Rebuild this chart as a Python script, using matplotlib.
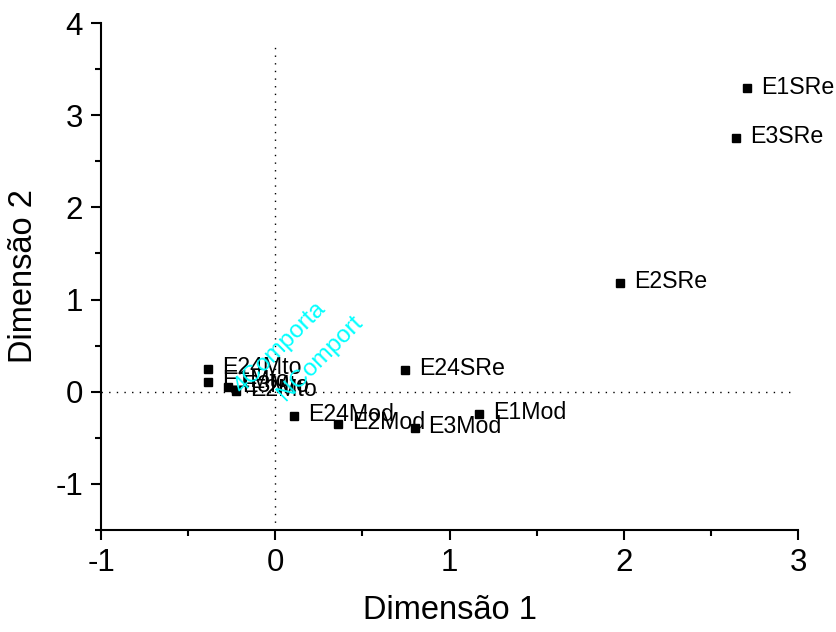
import matplotlib

matplotlib.use("Agg")
import matplotlib.pyplot as plt
from matplotlib.ticker import MultipleLocator

plt.rcParams["font.family"] = ["Liberation Sans", "DejaVu Sans"]
plt.rcParams["axes.unicode_minus"] = False

# category points (dimension 1, dimension 2)
labels = ["E1SRe", "E3SRe", "E2SRe", "E24SRe", "E1Mod", "E3Mod", "E2Mod",
          "E24Mod", "E24Mto", "E1Mto", "E3Mto", "E2Mto"]
dim1 = [2.71, 2.645, 1.98, 0.745, 1.17, 0.80, 0.36, 0.11, -0.385, -0.385, -0.27, -0.225]
dim2 = [3.29, 2.75, 1.18, 0.24, -0.24, -0.39, -0.35, -0.26, 0.25, 0.11, 0.055, 0.005]

# supplementary variables (cyan, rotated labels)
sup_labels = ["4Comporta", "NComport"]
sup_dim1 = [-0.19, 0.06]
sup_dim2 = [-0.03, -0.11]

fig = plt.figure(figsize=(8.37, 6.32), dpi=100)
ax = fig.add_axes([0.1207, 0.1614, 0.8327, 0.8022])

ax.plot([0, 0], [-1.5, 3.77], color="black", lw=1.0, ls=(0, (1, 4.5)))
ax.plot([-1, 2.98], [0, 0], color="black", lw=1.0, ls=(0, (1, 4.5)))

ax.plot(dim1, dim2, ls="none", marker="s", ms=6.3, color="black")
for lab, x, y in zip(labels, dim1, dim2):
    ax.annotate(lab, (x, y), xytext=(10, 1), textcoords="offset points",
                ha="left", va="center", fontsize=16.7)

for lab, x, y in zip(sup_labels, sup_dim1, sup_dim2):
    ax.text(x, y, lab, color="cyan", fontsize=17.5, rotation=45,
            rotation_mode="anchor", ha="left", va="baseline")

ax.set_xlim(-1, 3)
ax.set_ylim(-1.5, 4)
ax.xaxis.set_major_locator(MultipleLocator(1))
ax.xaxis.set_minor_locator(MultipleLocator(0.5))
ax.yaxis.set_major_locator(MultipleLocator(1))
ax.yaxis.set_minor_locator(MultipleLocator(0.5))

for side in ["top", "right"]:
    ax.spines[side].set_visible(False)
for side in ["left", "bottom"]:
    ax.spines[side].set_linewidth(1.5)

ax.tick_params(which="major", direction="out", length=7, width=1.5, labelsize=22.5, pad=6)
ax.tick_params(which="minor", direction="out", length=4, width=1.5)

ax.set_xlabel("Dimensão 1", fontsize=23.5, labelpad=12)
ax.set_ylabel("Dimensão 2", fontsize=23.5, labelpad=12)

fig.savefig("out.png", dpi=100)
